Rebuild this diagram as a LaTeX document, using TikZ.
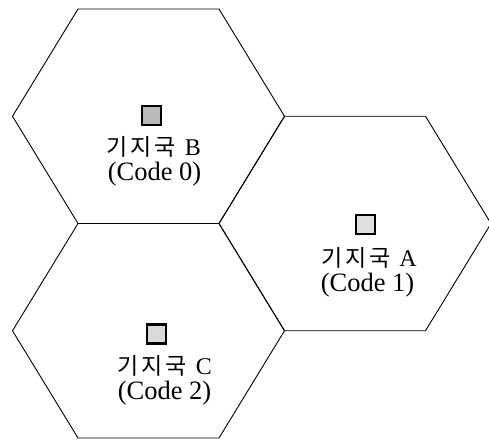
\documentclass[tikz,border=0pt]{standalone}
\usepackage{fontspec}
\setmainfont{Liberation Serif}
\newfontfamily\kr[LetterSpace=12]{Noto Sans CJK KR}
\begin{document}
\begin{tikzpicture}[x=1pt,y=-1pt,
  cell/.style={draw=black,line width=0.9pt,line join=miter},
  bts/.style={draw=black,line width=2.2pt,minimum size=19pt,inner sep=0pt},
  lab/.style={inner sep=0pt,anchor=base,font=\fontsize{24}{24}\selectfont},
  code/.style={inner sep=0pt,anchor=base,font=\fontsize{26.5}{26.5}\selectfont}]
\useasboundingbox (0,0) rectangle (489,439);
\newcommand\hexcell[2]{%
  \draw[cell] (#1-70.5,#2-107.25) -- (#1+70.5,#2-107.25) -- (#1+136,#2)
    -- (#1+70.5,#2+107.25) -- (#1-70.5,#2+107.25) -- (#1-136,#2) -- cycle;}
\hexcell{148.5}{116.25}
\hexcell{355}{223.5}
\hexcell{148.5}{330.75}
% base stations
\node[bts,fill=gray!55] (sB) at (151.5,115.5) {};
\node[bts,fill=gray!25] (sA) at (365.5,224.5) {};
\node[bts,fill=gray!30] (sC) at (156.5,334) {};
% labels
\node[lab] (lB) at (154,155) {{\kr\fontsize{23}{23}\selectfont 기지국}\hspace{3pt} B};
\node[code] (cB) at (154.5,180) {(Code 0)};
\node[lab] (lA) at (369,266) {{\kr\fontsize{23}{23}\selectfont 기지국}\hspace{3pt} A};
\node[code] (cA) at (367.5,291) {(Code 1)};
\node[lab] (lC) at (165,374) {{\kr\fontsize{23}{23}\selectfont 기지국}\hspace{3pt} C};
\node[code] (cC) at (164.5,399) {(Code 2)};
\end{tikzpicture}
\end{document}
